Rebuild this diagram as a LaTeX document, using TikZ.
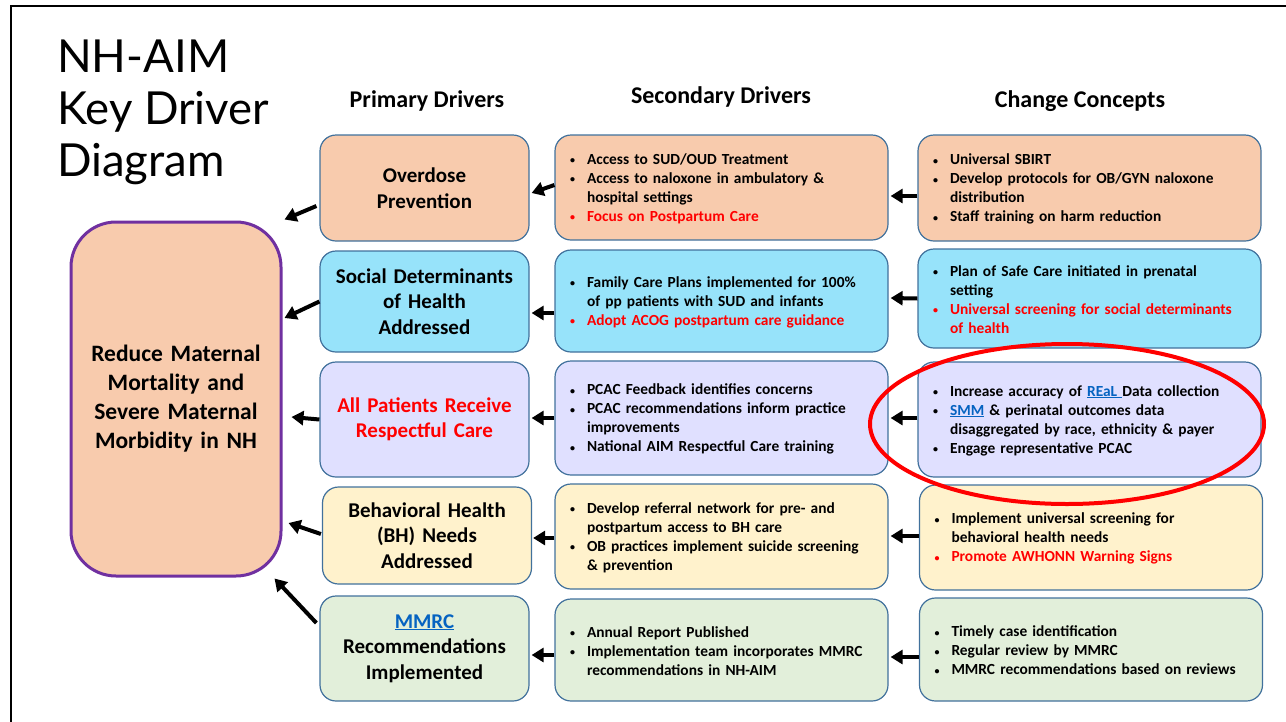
\documentclass[tikz,border=0pt]{standalone}
\usepackage{fontspec}
\setmainfont{Carlito}
\newfontfamily\titlefont{Lato}
\usetikzlibrary{arrows.meta,shapes.geometric,calc}
\definecolor{cOrange}{HTML}{F8CBAD}
\definecolor{cBlue}{HTML}{97E3FA}
\definecolor{cLav}{HTML}{E0E0FF}
\definecolor{cYel}{HTML}{FFF2CC}
\definecolor{cGrn}{HTML}{E2EFDA}
\definecolor{cEdge}{HTML}{41719C}
\definecolor{cPurp}{HTML}{7030A0}
\definecolor{cRed}{HTML}{FF0000}
\definecolor{cLink}{HTML}{0563C1}
\newcommand{\lnk}[1]{{\color{cLink}\setbox0=\hbox{#1}\rlap{\rule[-2.2pt]{\wd0}{1.3pt}}\box0}}
\newcommand{\bi}[2][black]{\hangindent=17pt\hangafter=1\noindent\makebox[17pt][l]{\color{#1}\raisebox{0.6pt}{\fontsize{10}{10}\selectfont\textbullet}}{\color{#1}#2}\par}
\newcommand{\bend}{\par\kern-2pt}
\tikzset{
  kbox/.style={draw=cEdge, line width=1.2pt, rounded corners=16pt, inner sep=0pt},
  prim/.style={kbox, minimum width=209pt, text width=205pt, align=center,
    font=\fontsize{21}{25.5}\selectfont\bfseries},
  secb/.style={kbox, text width=303pt, inner xsep=15pt, align=left,
    font=\fontsize{15.4}{19}\selectfont\bfseries},
  chgb/.style={kbox, text width=313pt, inner xsep=15pt, align=left,
    font=\fontsize{15.4}{19}\selectfont\bfseries},
  hdr/.style={font=\fontsize{24}{28}\selectfont\bfseries, inner sep=0pt},
  ttl/.style={font=\titlefont\fontsize{45.5}{52}\selectfont, anchor=base west, inner sep=0pt},
  arr/.style={line width=4pt, -{Triangle[length=12pt,width=14pt]}},
}
\begin{document}
\begin{tikzpicture}[x=1pt,y=-1pt]
\useasboundingbox (0,0) rectangle (1286,721);
% frame
\draw[line width=2.5pt] (11,740) -- (11,6) -- (1300,6);
% title
\node[ttl] (t1) at (57,72) {NH-AIM};
\node[ttl] (t2) at (57,124) {Key Driver};
\node[ttl] (t3) at (57,176) {Diagram};
% headers
\node[hdr] (h1) at (427,101) {Primary Drivers};
\node[hdr] (h2) at (721,97) {Secondary Drivers};
\node[hdr] (h3) at (1080,101) {Change Concepts};
% big box
\node[draw=cPurp, line width=3pt, rounded corners=45pt, fill=cOrange,
  minimum width=210pt, minimum height=354pt, text width=206pt, align=center, inner sep=0pt,
  font=\fontsize{23.5}{29}\selectfont\bfseries] (B) at (176,399)
  {Reduce Maternal\\Mortality and\\Severe Maternal\\Morbidity in NH};
% primary drivers
\node[prim, fill=cOrange, minimum height=106pt] (p1) at (424.5,188) {Overdose\\Prevention};
\node[prim, fill=cBlue, minimum height=101pt] (p2) at (424.5,301.5) {Social Determinants\\of Health\\Addressed};
\node[prim, fill=cLav, minimum height=115pt, text=cRed] (p3) at (424.5,419.5) {All Patients Receive\\Respectful Care};
\node[prim, fill=cYel, minimum height=97pt] (p4) at (427,535.5) {Behavioral Health\\(BH) Needs\\Addressed};
\node[prim, fill=cGrn, minimum height=105pt] (p5) at (424.5,648.5) {\lnk{MMRC}\\Recommendations\\Implemented};
% secondary drivers
\node[secb, fill=cOrange, minimum height=105pt] (s1) at (721.5,187.5) {%
  \bi{Access to SUD/OUD Treatment}
  \bi{Access to naloxone in ambulatory \&\newline hospital settings}
  \bi[cRed]{Focus on Postpartum Care}\bend};
\node[secb, fill=cBlue, minimum height=102pt] (s2) at (721.5,301) {%
  \bi{Family Care Plans implemented for 100\%\newline of pp patients with SUD and infants}
  \bi[cRed]{Adopt ACOG postpartum care guidance}\bend};
\node[secb, fill=cLav, minimum height=114pt] (s3) at (721.5,418) {%
  \bi{PCAC Feedback identifies concerns}
  \bi{PCAC recommendations inform practice\newline improvements}
  \bi{National AIM Respectful Care training}\bend};
\node[secb, fill=cYel, minimum height=105pt] (s4) at (721.5,536.5) {%
  \bi{Develop referral network for pre- and\newline postpartum access to BH care}
  \bi{OB practices implement suicide screening\newline \& prevention}\bend};
\node[secb, fill=cGrn, minimum height=102pt] (s5) at (721.5,650) {%
  \bi{Annual Report Published}
  \bi{Implementation team incorporates MMRC\newline recommendations in NH-AIM}\bend};
% change concepts
\node[chgb, fill=cOrange, minimum height=106pt] (c1) at (1089.5,188) {%
  \bi{Universal SBIRT}
  \bi{Develop protocols for OB/GYN naloxone\newline distribution}
  \bi{Staff training on harm reduction}\bend};
\node[chgb, fill=cBlue, minimum height=99pt] (c2) at (1089.5,298.5) {%
  \bi{Plan of Safe Care initiated in prenatal\newline setting}
  \bi[cRed]{Universal screening for social determinants\newline of health}\bend};
\node[chgb, fill=cLav, minimum height=115pt] (c3) at (1089.5,419.5) {%
  \bi{Increase accuracy of \lnk{REaL\ }Data collection}
  \bi{\lnk{SMM} \& perinatal outcomes data\newline disaggregated by race, ethnicity \& payer}
  \bi{Engage representative PCAC}\bend};
\node[chgb, fill=cYel, minimum height=105pt] (c4) at (1091,537.5) {%
  \bi{Implement universal screening for\newline behavioral health needs}
  \bi[cRed]{Promote AWHONN Warning Signs}\bend};
\node[chgb, fill=cGrn, minimum height=103pt] (c5) at (1091,649.5) {%
  \bi{Timely case identification}
  \bi{Regular review by MMRC}
  \bi{MMRC recommendations based on reviews}\bend};
% arrows primary -> goal
\draw[arr] ($(p1.west)+(-3,18)$) -- ($(B.north east)+(2,-1)$);
\draw[arr] (p2.west) -- ($(B.east)+(2,-81)$);
\draw[arr] (p3.west) -- ($(B.east)+(9,18)$);
\draw[arr] ($(p4.west)+(-1,-1.5)$) -- ($(B.east)+(6,124)$);
\draw[arr] ($(p5.west)+(-3,-25.5)$) -- ($(B.south east)+(-8,1)$);
% arrows secondary -> primary
\draw[arr] ($(s1.west)+(0,-2.5)$) -- ($(p1.east)+(2,5)$);
\draw[arr] ($(s2.west)+(0,12)$) -- ($(p2.east)+(2,11.5)$);
\draw[arr] (s3.west) -- ($(p3.east)+(2,-1.5)$);
\draw[arr] ($(s4.west)+(0,1.5)$) -- ($(p4.east)+(1,2.5)$);
\draw[arr] ($(s5.west)+(0,5)$) -- ($(p5.east)+(2,6.5)$);
% arrows change -> secondary
\draw[arr] ($(c1.west)+(0,8)$) -- ($(s1.east)+(2,8.5)$);
\draw[arr] (c2.west) -- ($(s2.east)+(2,-3)$);
\draw[arr] ($(c3.west)+(0,-1.5)$) -- ($(s3.east)+(2,0)$);
\draw[arr] ($(c4.west)+(0,-1.5)$) -- ($(s4.east)+(2,-0.5)$);
\draw[arr] ($(c5.west)+(0,7.5)$) -- ($(s5.east)+(2,7)$);
% highlight
\node[draw=cRed, line width=4pt, ellipse, minimum width=394pt, minimum height=160pt, inner sep=0pt] (hl) at (1067,424) {};
\end{tikzpicture}
\end{document}
